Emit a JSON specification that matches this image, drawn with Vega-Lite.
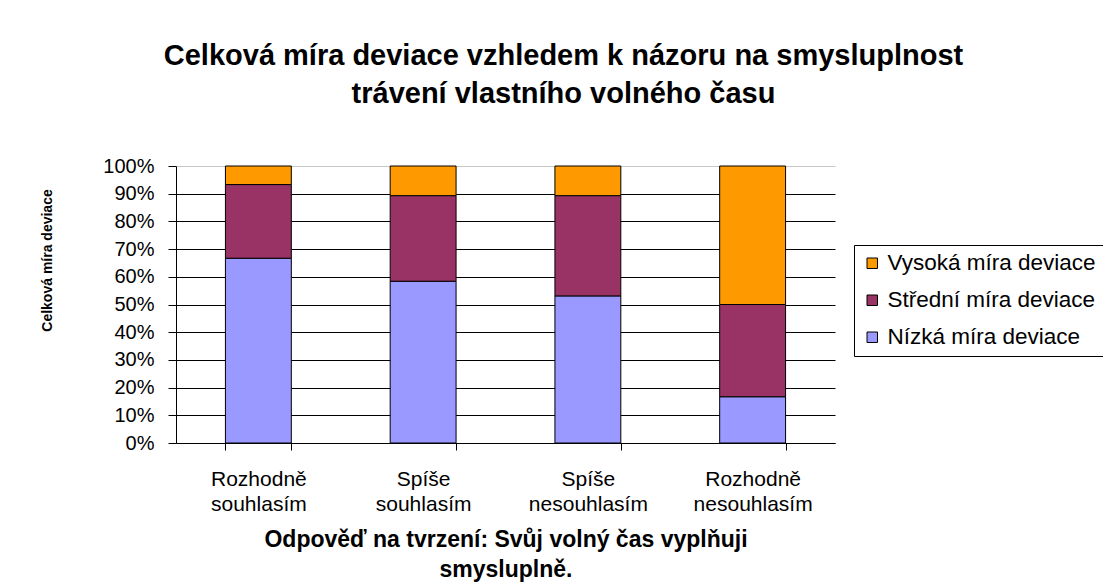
{
  "$schema": "https://vega.github.io/schema/vega-lite/v6.json",
  "width": 659,
  "height": 277,
  "autosize": {"type": "none"},
  "padding": {"left": 176, "top": 166, "right": 268, "bottom": 140},
  "background": "white",
  "config": {
    "font": "Liberation Sans",
    "view": {"stroke": null}
  },
  "title": {
    "text": ["Celková míra deviace vzhledem k názoru na smysluplnost", "trávení vlastního volného času"],
    "fontSize": 29,
    "fontWeight": "bold",
    "color": "black",
    "lineHeight": 38,
    "anchor": "middle",
    "frame": "group",
    "dx": 58,
    "offset": 47
  },
  "data": {
    "values": [
      {"odpoved": "Rozhodně|souhlasím", "mira": "Nízká míra deviace", "rank": 1, "podil": 66.7},
      {"odpoved": "Rozhodně|souhlasím", "mira": "Střední míra deviace", "rank": 2, "podil": 26.6},
      {"odpoved": "Rozhodně|souhlasím", "mira": "Vysoká míra deviace", "rank": 3, "podil": 6.7},
      {"odpoved": "Spíše|souhlasím", "mira": "Nízká míra deviace", "rank": 1, "podil": 58.4},
      {"odpoved": "Spíše|souhlasím", "mira": "Střední míra deviace", "rank": 2, "podil": 30.9},
      {"odpoved": "Spíše|souhlasím", "mira": "Vysoká míra deviace", "rank": 3, "podil": 10.7},
      {"odpoved": "Spíše|nesouhlasím", "mira": "Nízká míra deviace", "rank": 1, "podil": 53.1},
      {"odpoved": "Spíše|nesouhlasím", "mira": "Střední míra deviace", "rank": 2, "podil": 36.2},
      {"odpoved": "Spíše|nesouhlasím", "mira": "Vysoká míra deviace", "rank": 3, "podil": 10.7},
      {"odpoved": "Rozhodně|nesouhlasím", "mira": "Nízká míra deviace", "rank": 1, "podil": 16.7},
      {"odpoved": "Rozhodně|nesouhlasím", "mira": "Střední míra deviace", "rank": 2, "podil": 33.3},
      {"odpoved": "Rozhodně|nesouhlasím", "mira": "Vysoká míra deviace", "rank": 3, "podil": 50.0}
    ]
  },
  "mark": {"type": "bar", "stroke": "black", "strokeWidth": 1},
  "encoding": {
    "x": {
      "field": "odpoved",
      "type": "nominal",
      "sort": null,
      "scale": {"paddingInner": 0.6, "paddingOuter": 0.3},
      "axis": {
        "title": ["Odpověď na tvrzení: Svůj volný čas vyplňuji", "smysluplně."],
        "titleFontSize": 23,
        "titleFontWeight": "bold",
        "titleColor": "black",
        "titleLineHeight": 30,
        "titlePadding": 14,
        "labelExpr": "split(datum.label, '|')",
        "labelFontSize": 21,
        "labelLineHeight": 25,
        "labelColor": "black",
        "labelAngle": 0,
        "labelPadding": 18,
        "tickBand": "extent",
        "tickSize": 7,
        "tickColor": "black",
        "domainColor": "black",
        "grid": false
      }
    },
    "y": {
      "field": "podil",
      "type": "quantitative",
      "stack": "normalize",
      "scale": {"domain": [0, 1]},
      "axis": {
        "title": "Celková míra deviace",
        "titleFontSize": 14,
        "titleFontWeight": "bold",
        "titleColor": "black",
        "titleY": 94,
        "titlePadding": 48,
        "format": ".0%",
        "values": [0, 0.1, 0.2, 0.3, 0.4, 0.5, 0.6, 0.7, 0.8, 0.9, 1],
        "labelFontSize": 20,
        "labelColor": "black",
        "labelPadding": 14,
        "tickSize": 8,
        "tickColor": "black",
        "domainColor": "black",
        "grid": true,
        "gridColor": {"condition": {"test": "datum.value == 1", "value": "#c8c8c8"}, "value": "black"},
        "gridOpacity": 1
      }
    },
    "color": {
      "field": "mira",
      "type": "nominal",
      "scale": {
        "domain": ["Vysoká míra deviace", "Střední míra deviace", "Nízká míra deviace"],
        "range": ["#FF9900", "#993366", "#9999FF"]
      },
      "legend": {
        "title": null,
        "orient": "none",
        "legendX": 678,
        "legendY": 79,
        "strokeColor": "black",
        "fillColor": "white",
        "padding": 7,
        "symbolType": "square",
        "symbolSize": 110,
        "symbolStrokeColor": "black",
        "symbolStrokeWidth": 1,
        "symbolOpacity": 1,
        "labelFontSize": 22.5,
        "labelColor": "black",
        "labelLimit": 400,
        "rowPadding": 14,
        "labelOffset": 4
      }
    },
    "order": {"field": "rank", "type": "quantitative"}
  }
}
